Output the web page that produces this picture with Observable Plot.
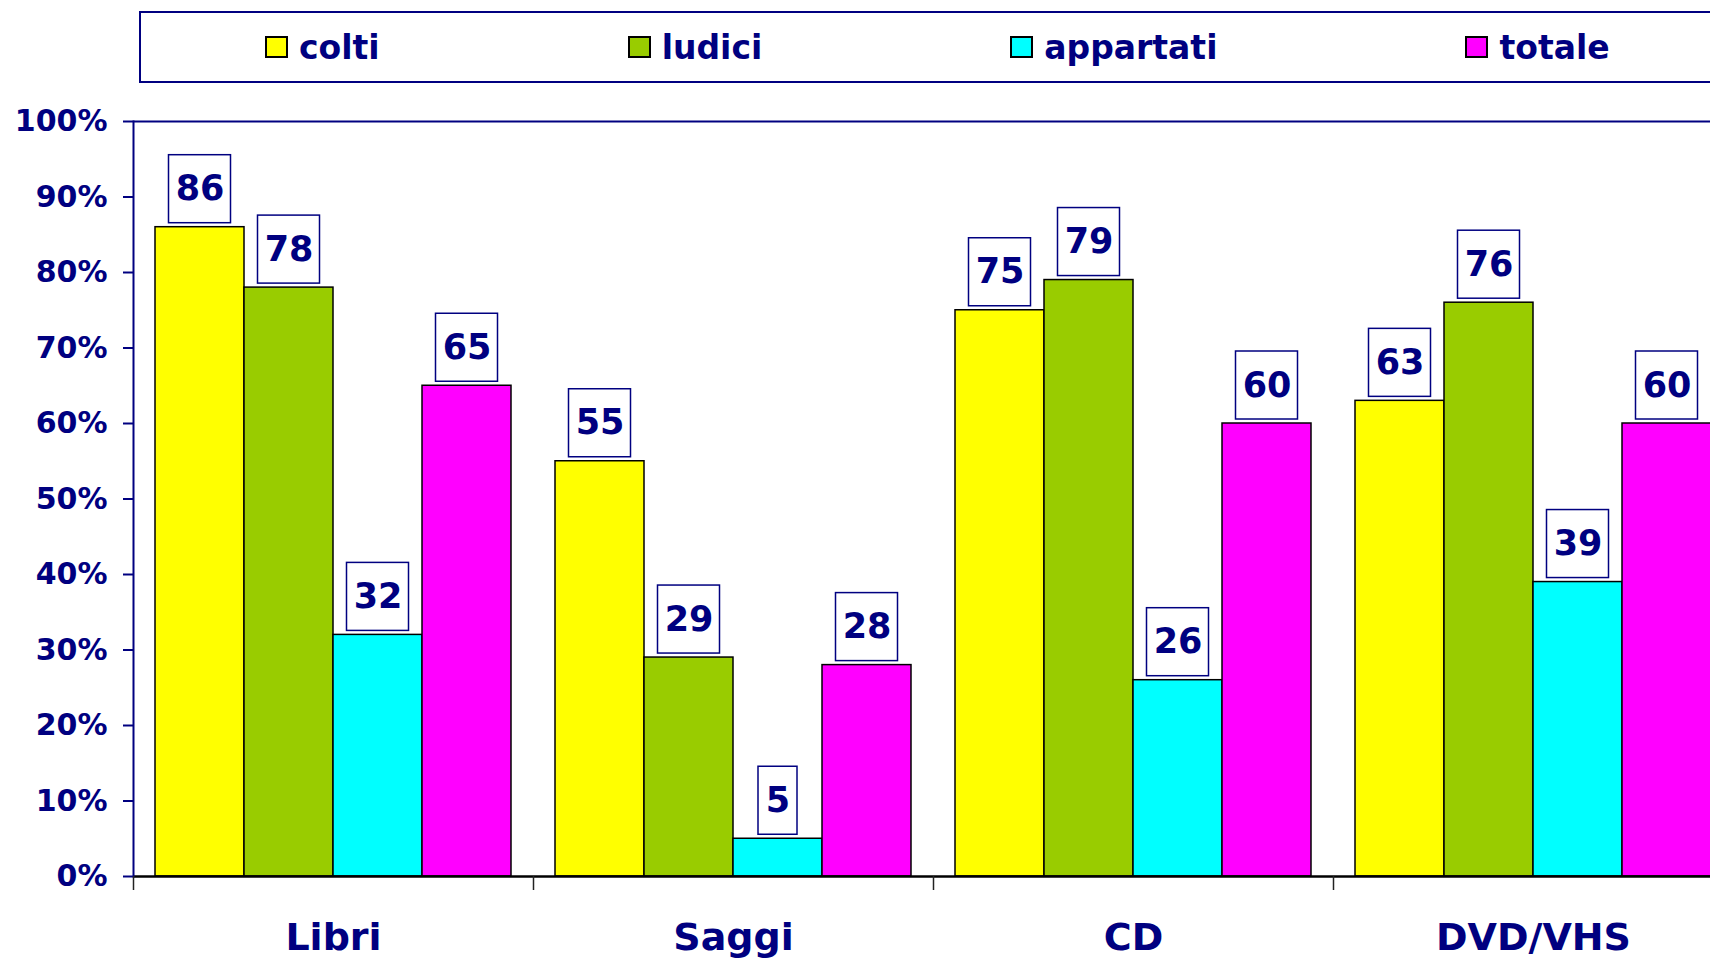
<!DOCTYPE html>
<html>
<head>
<meta charset="utf-8">
<script src="https://cdn.jsdelivr.net/npm/d3@7"></script>
<script src="https://cdn.jsdelivr.net/npm/@observablehq/plot@0.6"></script>
<style>
  html, body { margin: 0; padding: 0; background: #fff; overflow: hidden; }
  #wrap { position: relative; width: 1710px; height: 961px; overflow: hidden; }
  #legend {
    position: absolute; left: 139px; top: 11px; width: 1640px; height: 68px;
    border: 2px solid #000080; box-sizing: content-box; background: #fff;
    display: flex; align-items: center; gap: 248px; padding-left: 124px;
    font-family: "DejaVu Sans", sans-serif; font-weight: bold; font-size: 33px; color: #000080;
  }
  .item { display: flex; align-items: center; gap: 11px; white-space: nowrap; }
  .sw { width: 23px; height: 22px; border: 2px solid #000; box-sizing: border-box; }
  #chart { position: absolute; left: 0; top: 0; }
</style>
</head>
<body>
<div id="wrap">
  <div id="chart"></div>
  <div id="legend"></div>
</div>
<script>
const categories = ["Libri", "Saggi", "CD", "DVD/VHS"];
const series = ["colti", "ludici", "appartati", "totale"];
const colors = ["#FFFF00", "#99CC00", "#00FFFF", "#FF00FF"];
const valuesColti = [86, 55, 75, 63];
const valuesLudici = [78, 29, 79, 76];
const valuesAppartati = [32, 5, 26, 39];
const valuesTotale = [65, 28, 60, 60];
const yTicks = [0, 10, 20, 30, 40, 50, 60, 70, 80, 90, 100];

const seriesValues = [valuesColti, valuesLudici, valuesAppartati, valuesTotale];
const data = [];
categories.forEach((c, ci) => {
  series.forEach((s, si) => {
    data.push({category: c, series: s, value: seriesValues[si][ci]});
  });
});

const navy = "#000080";
const fxRange = [133, 1733];
const halfBand = (fxRange[1] - fxRange[0]) / categories.length / 2;
const font = "DejaVu Sans";

const chart = Plot.plot({
  width: 1710,
  height: 961,
  marginLeft: 133,
  marginRight: 0,
  marginTop: 121,
  marginBottom: 85,
  style: {fontFamily: font, background: "white"},
  fx: {domain: categories, range: fxRange, padding: 0, label: null},
  x: {domain: series, paddingInner: 0, paddingOuter: 0.247, axis: null},
  y: {domain: [0, 100], label: null},
  color: {domain: series, range: colors},
  marks: [
    Plot.barY(data, {fx: "category", x: "series", y: "value", fill: "series", stroke: "#000", strokeWidth: 1.5}),
    Plot.ruleY([100], {stroke: navy, strokeWidth: 2}),
    Plot.ruleY([0], {stroke: "#000", strokeWidth: 2.5}),
    Plot.frame({anchor: "left", facetAnchor: "left", stroke: navy, strokeWidth: 2}),
    Plot.axisY({ticks: yTicks, tickFormat: d => d + "%", tickSize: 10, tickPadding: 16,
      fontSize: 30, fontWeight: "bold", fill: navy, stroke: navy, strokeWidth: 2, label: null}),
    Plot.axisFx({anchor: "bottom", tickSize: 14, dx: -halfBand, tickFormat: () => "", stroke: "#222", strokeWidth: 1.5, label: null}),
    Plot.axisFx({anchor: "bottom", tickSize: 0, tickPadding: 47, fontSize: 38, fontWeight: "bold", fill: navy, label: null}),
    Plot.barY(data.filter(d => String(d.value).length > 1), {fx: "category", x: "series", y1: "value", y2: "value",
      fill: "white", stroke: navy, strokeWidth: 1.5, insetTop: -72, insetBottom: 4, insetLeft: 13.5, insetRight: 13.5}),
    Plot.barY(data.filter(d => String(d.value).length === 1), {fx: "category", x: "series", y1: "value", y2: "value",
      fill: "white", stroke: navy, strokeWidth: 1.5, insetTop: -72, insetBottom: 4, insetLeft: 25, insetRight: 25}),
    Plot.text(data, {fx: "category", x: "series", y: "value", text: d => String(d.value), dy: -38,
      fontSize: 35, fontWeight: "bold", fill: navy})
  ]
});
document.getElementById("chart").appendChild(chart);

const legend = document.getElementById("legend");
series.forEach((s, i) => {
  const item = document.createElement("div");
  item.className = "item";
  const sw = document.createElement("div");
  sw.className = "sw";
  sw.style.background = colors[i];
  const label = document.createElement("span");
  label.textContent = s;
  item.appendChild(sw);
  item.appendChild(label);
  legend.appendChild(item);
});
</script>
</body>
</html>
